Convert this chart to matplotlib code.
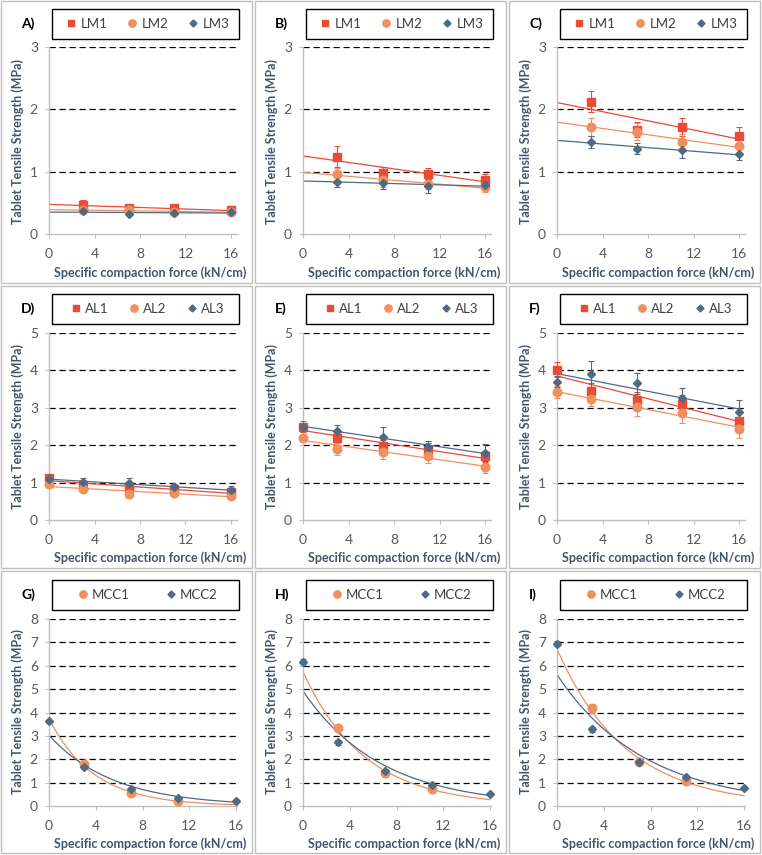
import numpy as np
import matplotlib.pyplot as plt
from matplotlib.patches import Rectangle
from matplotlib.lines import Line2D

plt.rcParams['font.family'] = ['Lato', 'DejaVu Sans']

# --- data ---
x_lm = [3, 7, 11, 16]
x_al = [0, 3, 7, 11, 16]
x_mcc1 = [3, 7, 11]
x_mcc2 = [0, 3, 7, 11, 16]

lm_names = ['LM1', 'LM2', 'LM3']
al_names = ['AL1', 'AL2', 'AL3']
mcc_names = ['MCC1', 'MCC2']

a_vals = [[0.47, 0.41, 0.41, 0.38], [0.38, 0.38, 0.36, 0.35], [0.37, 0.32, 0.33, 0.35]]
a_errs = [[0.08, 0.04, 0.04, 0.03], [0.03, 0.03, 0.03, 0.03], [0.03, 0.02, 0.02, 0.02]]
b_vals = [[1.24, 0.98, 0.96, 0.87], [0.96, 0.86, 0.80, 0.75], [0.84, 0.82, 0.77, 0.78]]
b_errs = [[0.17, 0.10, 0.10, 0.10], [0.10, 0.10, 0.08, 0.08], [0.08, 0.10, 0.12, 0.08]]
c_vals = [[2.12, 1.67, 1.72, 1.57], [1.72, 1.64, 1.47, 1.41], [1.48, 1.37, 1.34, 1.28]]
c_errs = [[0.17, 0.12, 0.14, 0.15], [0.14, 0.14, 0.14, 0.14], [0.10, 0.09, 0.12, 0.10]]

d_vals = [[1.12, 0.93, 0.86, 0.82, 0.74], [0.95, 0.82, 0.70, 0.72, 0.65], [1.10, 1.02, 0.98, 0.88, 0.80]]
d_errs = [[0.06, 0.06, 0.08, 0.06, 0.06], [0.06, 0.06, 0.12, 0.06, 0.05], [0.06, 0.10, 0.14, 0.08, 0.12]]
e_vals = [[2.50, 2.18, 1.98, 1.87, 1.70], [2.20, 1.90, 1.82, 1.70, 1.43], [2.50, 2.37, 2.22, 1.95, 1.80]]
e_errs = [[0.15, 0.12, 0.15, 0.20, 0.15], [0.10, 0.17, 0.18, 0.18, 0.17], [0.10, 0.16, 0.26, 0.17, 0.22]]
f_vals = [[4.02, 3.45, 3.22, 3.10, 2.65], [3.42, 3.23, 3.02, 2.85, 2.43], [3.70, 3.90, 3.65, 3.25, 2.88]]
f_errs = [[0.20, 0.20, 0.20, 0.25, 0.20], [0.15, 0.18, 0.23, 0.25, 0.25], [0.15, 0.35, 0.28, 0.28, 0.33]]

g_vals = [[1.78, 0.55, 0.22], [3.62, 1.68, 0.72, 0.35, 0.20]]
g_errs = [[0.10, 0.05, 0.05], [0.08, 0.08, 0.06, 0.05, 0.04]]
h_vals = [[3.35, 1.42, 0.73], [6.18, 2.72, 1.48, 0.88, 0.52]]
h_errs = [[0.12, 0.08, 0.06], [0.12, 0.12, 0.08, 0.06, 0.05]]
i_vals = [[4.18, 1.90, 1.07], [6.95, 3.28, 1.90, 1.22, 0.75]]
i_errs = [[0.20, 0.10, 0.08], [0.10, 0.12, 0.08, 0.08, 0.05]]

# --- style ---
RED, ORANGE, SLATE = '#E94B35', '#F0905F', '#506A84'
lab_col = '#44546A'
tick_col = '#595959'
three = [(RED, 's', 5.8), (ORANGE, 'o', 6.2), (SLATE, 'D', 4.2)]
two = [(ORANGE, 'o', 6.2), (SLATE, 'D', 4.2)]

panels = [
    ('A)', [x_lm] * 3, a_vals, a_errs, lm_names, three, 3, 'lin'),
    ('B)', [x_lm] * 3, b_vals, b_errs, lm_names, three, 3, 'lin'),
    ('C)', [x_lm] * 3, c_vals, c_errs, lm_names, three, 3, 'lin'),
    ('D)', [x_al] * 3, d_vals, d_errs, al_names, three, 5, 'lin'),
    ('E)', [x_al] * 3, e_vals, e_errs, al_names, three, 5, 'lin'),
    ('F)', [x_al] * 3, f_vals, f_errs, al_names, three, 5, 'lin'),
    ('G)', [x_mcc1, x_mcc2], g_vals, g_errs, mcc_names, two, 8, 'exp'),
    ('H)', [x_mcc1, x_mcc2], h_vals, h_errs, mcc_names, two, 8, 'exp'),
    ('I)', [x_mcc1, x_mcc2], i_vals, i_errs, mcc_names, two, 8, 'exp'),
]

W, H = 762, 855
fig = plt.figure(figsize=(W / 100, H / 100), dpi=100)


def fx(px):
    return px / W


def fy(py):
    return 1 - py / H


col_x = [0, 254, 508]
row_y = [0, 285, 570]
xx = np.linspace(0, 16, 100)

for i, (letter, xs, vals, errs, names, sty, ymax, fit) in enumerate(panels):
    r, c = divmod(i, 3)
    x0, y0 = col_x[c], row_y[r]
    dy = 1 if r == 2 else 0

    # panel border
    fig.patches.append(Rectangle((fx(x0 + 1), fy(y0 + 283)), 251 / W, 282 / H,
                                 transform=fig.transFigure, fill=False,
                                 ec='#BFBFBF', lw=1))
    top = y0 + [47, 48, 49][r]
    bot = y0 + [234, 235, 236][r]
    x16 = [231, 231, 236][r]      # pixel of x = 16
    xend = [237, 237, 237][r]     # pixel where the axis ends
    ax = fig.add_axes([fx(x0 + 49), fy(bot), (xend - 49) / W, (bot - top) / H])
    xmax = 16 * (xend - 49) / (x16 - 49)

    for yv in range(1, ymax + 1):
        ax.axhline(yv, color='black', ls=(0, (5, 3)), lw=0.9, zorder=1)

    handles = []
    for x, y, e, name, (col, mk, ms) in zip(xs, vals, errs, names, sty):
        x = np.array(x, float)
        y = np.array(y, float)
        if fit == 'lin':
            k = np.polyfit(x, y, 1)
            yy = np.polyval(k, xx)
        else:
            k = np.polyfit(x, np.log(y), 1)
            yy = np.exp(np.polyval(k, xx))
        ax.plot(xx, yy, color=col, lw=0.9, zorder=2)
        ax.errorbar(x, y, yerr=e, fmt='none', ecolor=col, elinewidth=0.8,
                    capsize=2.5, capthick=0.8, zorder=3, clip_on=False)
        ax.plot(x, y, ls='none', marker=mk, ms=ms, color=col, mec=col,
                zorder=4, clip_on=False)
        handles.append(Line2D([], [], ls='none', marker=mk, ms=ms * 0.85,
                              color=col, label=name))

    ax.set_xlim(0, xmax)
    ax.set_ylim(0, ymax)
    ax.set_xticks([0, 4, 8, 12, 16])
    ax.set_yticks(range(0, ymax + 1))
    for s in ['top', 'right']:
        ax.spines[s].set_visible(False)
    for s in ['left', 'bottom']:
        ax.spines[s].set_color('#BFBFBF')
        ax.spines[s].set_linewidth(1)
    ax.tick_params(color='#BFBFBF', length=3, labelsize=10, labelcolor=tick_col)
    ax.tick_params(axis='x', pad=7)
    ax.tick_params(axis='y', pad=5)

    # labels
    fig.text(fx(x0 + 21), fy(y0 + 24 + dy), letter, fontsize=10, fontweight='bold',
             ha='left', va='center')
    fig.text(fx(x0 + 150), fy(y0 + 273 + dy),
             'Specific compaction force (kN/cm)', fontsize=9, fontweight='bold',
             color=lab_col, ha='center', va='center')
    fig.text(fx(x0 + 18), fy(y0 + 141), 'Tablet Tensile Strength (MPa)',
             fontsize=9, fontweight='bold', color=lab_col, rotation=90,
             ha='center', va='center')

    # legend box
    fig.patches.append(Rectangle((fx(x0 + 52), fy(y0 + 39 + dy)),
                                 187 / W, 30 / H, transform=fig.transFigure,
                                 fill=False, ec='black', lw=1))
    ax.legend(handles=handles, loc='center', ncol=len(handles),
              bbox_to_anchor=(fx(x0 + 147), fy(y0 + 24 + dy)),
              bbox_transform=fig.transFigure, frameon=False, fontsize=9.5,
              handlelength=1.0, handletextpad=0.2,
              columnspacing=1.4 if len(handles) == 3 else 2.6,
              labelcolor='#404040')

fig.savefig('out.png', dpi=100)
